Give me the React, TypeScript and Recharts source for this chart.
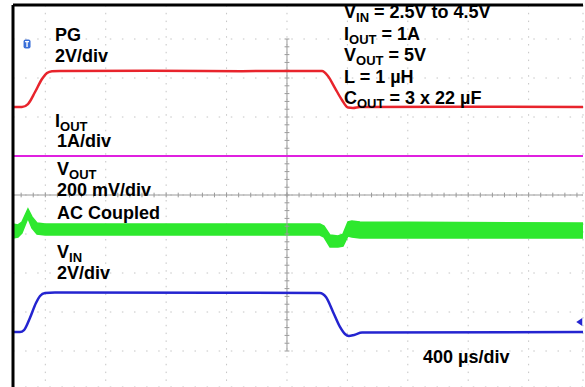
import { ComposedChart, Line, Area, XAxis, YAxis, CartesianGrid, ReferenceLine, ReferenceDot } from 'recharts';

// time in µs (400 µs/div, trigger at centre), values in each channel's own unit
const pgTimeUs = [-1814, -1755, -1715, -1668, -1622, -1589, -1556, -1503, -900, -300, 218, 232, 271, 318, 364, 404, 437, 483, 1200, 1960];
const pgVolts = [0, 0, 0.15, 0.77, 1.44, 1.74, 1.84, 1.85, 1.86, 1.84, 1.85, 1.85, 1.59, 0.97, 0.36, -0.03, -0.05, 0, 0.02, 0];

const ioutTimeUs = [-1814, 1960];
const ioutAmps = [1, 1];

const voutTimeUs = [-1814, -1781, -1755, -1715, -1688, -1655, -1602, 218, 245, 285, 338, 371, 404, 430, 483, 1960];
const voutHighMv = [26, 21, 36, 103, 62, 31, 26, 26, 15, -31, -36, -26, 36, 41, 36, 31];
const voutLowMv = [-46, -41, -21, 56, 5, -26, -31, -31, -41, -92, -92, -87, -36, -41, -46, -46];

const vinTimeUs = [-1814, -1768, -1741, -1702, -1662, -1635, -1602, -1536, 218, 258, 305, 351, 384, 410, 444, 497, 1960];
const vinVolts = [2.5, 2.5, 2.6, 3.22, 3.99, 4.35, 4.5, 4.52, 4.5, 4.29, 3.53, 2.76, 2.4, 2.3, 2.35, 2.47, 2.5];

const xGridUs = [-1600, -1200, -800, -400, 0, 400, 800, 1200, 1600];
const yGridDiv = [-4, -3, -2, -1, 0, 1, 2, 3, 4];

// screen is drawn in divisions; each channel has an offset and a scale
const X_MIN = -1814;
const X_MAX = 1960;
const Y_MIN = -4.923;
const Y_MAX = 4.872;
const PG_OFFSET = 2.256, PG_SCALE = 2;
const IOUT_OFFSET = 0, IOUT_SCALE = 1;
const VOUT_OFFSET = -0.872, VOUT_SCALE = 200;
const VIN_OFFSET = -4.763, VIN_SCALE = 2;

const pgData = pgTimeUs.map((t, i) => ({ t, v: PG_OFFSET + pgVolts[i] / PG_SCALE }));
const ioutData = ioutTimeUs.map((t, i) => ({ t, v: IOUT_OFFSET + ioutAmps[i] / IOUT_SCALE }));
const voutData = voutTimeUs.map((t, i) => ({
  t,
  band: [VOUT_OFFSET + voutLowMv[i] / VOUT_SCALE, VOUT_OFFSET + voutHighMv[i] / VOUT_SCALE],
}));
const vinData = vinTimeUs.map((t, i) => ({ t, v: VIN_OFFSET + vinVolts[i] / VIN_SCALE }));

// minor ticks on the centre cross
const minorX: number[] = [];
for (let t = -1840; t <= 1960; t += 80) if (t > X_MIN) minorX.push(t);
const minorY: number[] = [];
for (let d = -4; d <= 4.001; d += 0.2) minorY.push(Math.round(d * 10) / 10);

const font = '"Liberation Sans", Arial, Helvetica, sans-serif';

function TriggerIcon(props: any) {
  const { cx, cy } = props;
  return (
    <g>
      <rect x={cx - 3.5} y={cy - 4.5} width={7} height={9} rx={2} fill="#3a6fd8" />
      <path d={`M${cx - 2} ${cy - 2.5} H${cx + 2} M${cx} ${cy - 2.5} V${cy + 3}`} stroke="#fff" strokeWidth={1.4} />
    </g>
  );
}

function GroundMarker(props: any) {
  const { cx, cy } = props;
  return <path d={`M${cx - 3} ${cy} L${cx + 3} ${cy - 4} L${cx + 3} ${cy + 4} Z`} fill="#2424d0" />;
}

function Label({ x, y, main, sub, rest }: { x: number; y: number; main: string; sub?: string; rest?: string }) {
  return (
    <text x={x} y={y} fontFamily={font} fontWeight="bold" fontSize={18} fill="#000">
      {main}
      {sub && (
        <tspan fontSize={13} dy={4}>
          {sub}
        </tspan>
      )}
      {rest && <tspan dy={sub ? -4 : 0}>{rest}</tspan>}
    </text>
  );
}

export default function App() {
  return (
    <div style={{ position: 'absolute', left: 0, top: 0, width: 585, height: 387, background: '#fff' }}>
      <ComposedChart width={585} height={387} margin={{ top: 5, right: 2, bottom: 0, left: 13 }}>
        <XAxis type="number" dataKey="t" domain={[X_MIN, X_MAX]} ticks={xGridUs} allowDataOverflow hide />
        <YAxis type="number" domain={[Y_MIN, Y_MAX]} ticks={yGridDiv} allowDataOverflow hide />
        <CartesianGrid horizontal={false} stroke="#c4c4c4" strokeDasharray="1.5 6.3" />
        <CartesianGrid vertical={false} stroke="#c4c4c4" strokeDasharray="1.5 10.6" />

        <ReferenceLine y={0} stroke="#9a9a9a" strokeWidth={1} />
        <ReferenceLine segment={[{ x: 0, y: -4 }, { x: 0, y: 4 }]} stroke="#9a9a9a" strokeWidth={1} />
        {minorX.map((t) => (
          <ReferenceLine key={'mx' + t} segment={[{ x: t, y: -0.06 }, { x: t, y: 0.06 }]} stroke="#9a9a9a" />
        ))}
        {minorY.map((d) => (
          <ReferenceLine key={'my' + d} segment={[{ x: -16, y: d }, { x: 16, y: d }]} stroke="#9a9a9a" />
        ))}

        <Line data={pgData} dataKey="v" type="monotone" stroke="#e8242c" strokeWidth={2.5} dot={false} isAnimationActive={false} />
        <Line data={ioutData} dataKey="v" type="linear" stroke="#e020e0" strokeWidth={2.2} dot={false} isAnimationActive={false} />
        <Area
          data={voutData}
          dataKey="band"
          type="linear"
          stroke="#2ee82e"
          strokeWidth={1.5}
          fill="#2ee82e"
          fillOpacity={1}
          dot={false}
          activeDot={false}
          isAnimationActive={false}
        />
        <Line data={vinData} dataKey="v" type="monotone" stroke="#2424d0" strokeWidth={2.5} dot={false} isAnimationActive={false} />

        <ReferenceLine x={X_MIN} stroke="#000" strokeWidth={3} />
        <ReferenceLine y={Y_MAX} stroke="#000" strokeWidth={3} />
        <ReferenceDot x={-1721} y={3.87} r={4} shape={TriggerIcon} />
        <ReferenceDot x={1935} y={-3.256} r={4} shape={GroundMarker} />
      </ComposedChart>

      <svg width={585} height={387} style={{ position: 'absolute', left: 0, top: 0, pointerEvents: 'none' }}>
        <Label x={55} y={41} main="PG" />
        <Label x={55} y={61.5} main="2V/div" />
        <Label x={55} y={127} main="I" sub="OUT" />
        <Label x={57} y={147} main="1A/div" />
        <Label x={57} y={175} main="V" sub="OUT" />
        <Label x={57} y={196} main="200 mV/div" />
        <Label x={57} y={219} main="AC Coupled" />
        <Label x={57} y={258} main="V" sub="IN" />
        <Label x={57} y={279} main="2V/div" />

        <Label x={344} y={17.5} main="V" sub="IN" rest=" = 2.5V to 4.5V" />
        <Label x={344} y={39.5} main="I" sub="OUT" rest=" = 1A" />
        <Label x={344} y={61} main="V" sub="OUT" rest=" = 5V" />
        <Label x={344} y={83} main="L = 1 µH" />
        <Label x={344} y={104} main="C" sub="OUT" rest=" = 3 x 22 µF" />

        <Label x={423} y={363} main="400 µs/div" />
      </svg>
    </div>
  );
}
